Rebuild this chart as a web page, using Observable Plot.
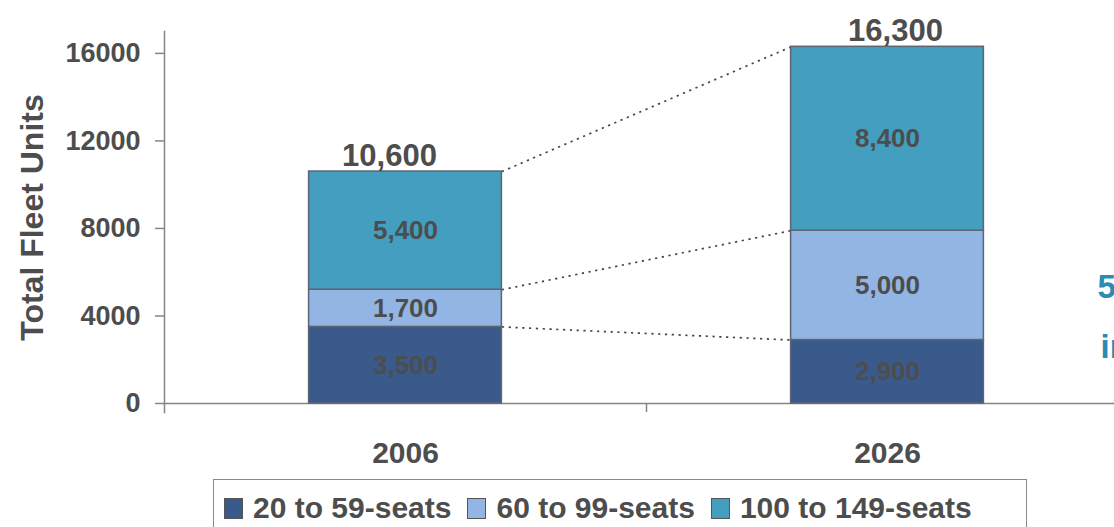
<!DOCTYPE html>
<html>
<head>
<meta charset="utf-8">
<script src="https://cdn.jsdelivr.net/npm/d3@7"></script>
<script src="https://cdn.jsdelivr.net/npm/@observablehq/plot@0.6"></script>
<style>
  body { margin: 0; background: #fff; font-family: "Liberation Sans", Arial, sans-serif; overflow: hidden; }
  #chart svg { display: block; }
  .legend {
    margin: 4px 0 0 213px; width: 814px; height: 60px; box-sizing: border-box;
    border: 1.5px solid #8a8a8a; display: flex; align-items: flex-start; padding: 13px 0 0 10px;
    font-weight: bold; font-size: 30px; color: #4d4d4d; line-height: 30px; white-space: nowrap;
  }
  .legend .item { display: flex; align-items: center; margin-right: 16px; }
  .legend .sw { width: 19px; height: 21px; border: 1px solid #555; margin-right: 10px; box-sizing: border-box; }
</style>
</head>
<body>
<div id="chart"></div>
<script>
// Regional aircraft fleet by seat class, 2006 vs. 2026 forecast
const years = ["2006", "2026"];
const seatClasses = ["20 to 59-seats", "60 to 99-seats", "100 to 149-seats"];
const fleet2006 = [3500, 1700, 5400];
const fleet2026 = [2900, 5000, 8400];
const totals = [10600, 16300];
const yTicks = [0, 4000, 8000, 12000, 16000];
const colors = ["#3b5a8c", "#93b5e4", "#449ec0"];
const growthNote = ["54%", "increase"];

const fleetByYear = [fleet2006, fleet2026];
const halfBar = 0.2; // half the bar width, in category units

// Stacked segments with cumulative bounds
const segments = [];
const boundaries = []; // cumulative tops per year
fleetByYear.forEach((vals, i) => {
  let acc = 0;
  const tops = [];
  vals.forEach((v, k) => {
    segments.push({i, cls: seatClasses[k], y1: acc, y2: acc + v, value: v});
    acc += v;
    tops.push(acc);
  });
  boundaries.push(tops);
});
const links = seatClasses.map((_, k) => ({y1: boundaries[0][k], y2: boundaries[1][k]}));
const totalRows = totals.map((t, i) => ({i, total: t}));

const fmt = d3.format(",");
const font = "Liberation Sans, Arial, sans-serif";
const ink = "#4d4d4d";
const axisGray = "#858585";
const totalStyle = {x: "i", y: "total", text: d => fmt(d.total), lineAnchor: "bottom", dy: -6,
  fontSize: 31, fontWeight: "bold", fill: ink};

const chart = Plot.plot({
  width: 1114,
  height: 475,
  marginLeft: 164,
  marginRight: 0,
  marginTop: 31,
  marginBottom: 72,
  style: {fontFamily: font, overflow: "hidden"},
  x: {type: "linear", domain: [-0.5, 1.5], range: [164, 1128], axis: null},
  y: {domain: [0, 17000], axis: null},
  color: {domain: seatClasses, range: colors},
  marks: [
    // axis lines
    Plot.frame({anchor: "left", stroke: axisGray, strokeWidth: 1.5, insetBottom: -9}),
    Plot.ruleY([0], {stroke: axisGray, strokeWidth: 1.5}),
    Plot.axisY({ticks: yTicks, tickSize: 9, tickPadding: 15, stroke: axisGray, strokeWidth: 1.5,
      fontSize: 27, fontWeight: "bold", fill: ink, tickFormat: d => String(d), label: null}),
    Plot.axisX({ticks: [0.5], tickSize: 9, stroke: axisGray, strokeWidth: 1.5, tickFormat: () => "", label: null}),
    Plot.axisX({ticks: [0, 1], tickSize: 0, tickPadding: 38, fontSize: 30, fontWeight: "bold",
      fill: ink, tickFormat: i => years[i], label: null}),
    Plot.text(["Total Fleet Units"], {frameAnchor: "left", textAnchor: "middle", dx: -132, rotate: -90,
      fontSize: 32, fontWeight: "bold", fill: ink}),
    // dotted connectors between matching stack boundaries
    Plot.link(links, {x1: () => 0 + halfBar, x2: () => 1 - halfBar, y1: "y1", y2: "y2",
      stroke: "#444", strokeWidth: 1.7, strokeDasharray: "2.2,4.6"}),
    // stacked bars
    Plot.rect(segments, {x1: d => d.i - halfBar, x2: d => d.i + halfBar, y1: "y1", y2: "y2",
      fill: "cls", stroke: "#5b6573", strokeWidth: 1.5}),
    Plot.text(segments, {x: "i", y: d => (d.y1 + d.y2) / 2, text: d => fmt(d.value),
      fontSize: 26, fontWeight: "bold", fill: ink}),
    // totals above each bar
    Plot.text(totalRows.slice(0, 1), {...totalStyle, dx: -16}),
    Plot.text(totalRows.slice(1), {...totalStyle, dx: 8}),
    // growth note at the right edge
    Plot.text([growthNote[0]], {x: 1.4357, y: 4800, textAnchor: "start", lineAnchor: "bottom",
      fontSize: 33, fontWeight: "bold", fill: "#2b8cb3"}),
    Plot.text([growthNote[1]], {x: 1.442, y: 2100, textAnchor: "start", lineAnchor: "bottom",
      fontSize: 33, fontWeight: "bold", fill: "#2b8cb3"})
  ]
});
document.getElementById("chart").append(chart);

// Legend below the chart
const legend = document.createElement("div");
legend.className = "legend";
seatClasses.forEach((name, k) => {
  const item = document.createElement("div");
  item.className = "item";
  const sw = document.createElement("span");
  sw.className = "sw";
  sw.style.background = colors[k];
  const label = document.createElement("span");
  label.textContent = name;
  item.append(sw, label);
  legend.append(item);
});
document.body.append(legend);
</script>
</body>
</html>
